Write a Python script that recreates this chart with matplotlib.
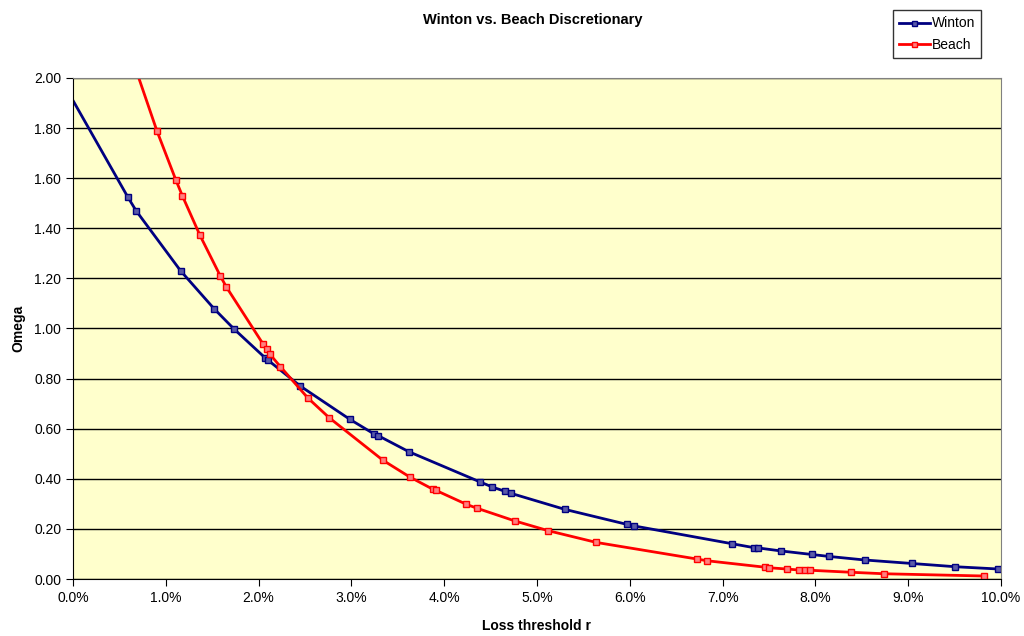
import numpy as np
import matplotlib
matplotlib.use("Agg")
import matplotlib.pyplot as plt
from matplotlib.ticker import FuncFormatter, MultipleLocator

plt.rcParams["font.family"] = ["Liberation Sans", "DejaVu Sans"]

# loss threshold r (%) and Omega
winton_r = [0.00, 0.59, 0.68, 1.16, 1.52, 1.735, 2.07, 2.10, 2.45, 2.985, 3.24, 3.29,
            3.62, 4.39, 4.52, 4.655, 4.72, 5.30, 5.97, 6.045, 7.10, 7.34, 7.385, 7.63,
            7.96, 8.15, 8.53, 9.04, 9.51, 9.97]
winton_omega = [1.91, 1.525, 1.47, 1.23, 1.079, 0.998, 0.883, 0.874, 0.770, 0.637, 0.580,
                0.572, 0.508, 0.387, 0.367, 0.350, 0.342, 0.278, 0.218, 0.212, 0.141,
                0.125, 0.124, 0.112, 0.098, 0.090, 0.076, 0.062, 0.049, 0.040]

beach_r = [0.45, 0.905, 1.107, 1.178, 1.368, 1.587, 1.652, 2.05, 2.087, 2.12, 2.234,
           2.53, 2.76, 3.34, 3.63, 3.88, 3.91, 4.24, 4.35, 4.76, 5.12, 5.64, 6.72, 6.83,
           7.46, 7.50, 7.69, 7.82, 7.89, 7.94, 8.38, 8.74, 9.82]
beach_omega = [2.28, 1.788, 1.594, 1.530, 1.372, 1.210, 1.166, 0.937, 0.918, 0.898, 0.848,
               0.723, 0.644, 0.474, 0.407, 0.358, 0.354, 0.298, 0.283, 0.232, 0.193,
               0.146, 0.080, 0.073, 0.047, 0.045, 0.040, 0.036, 0.035, 0.035, 0.027,
               0.021, 0.012]

fig = plt.figure(figsize=(10.24, 6.36), dpi=100)
ax = fig.add_axes([0.0713, 0.0896, 0.9062, 0.7878])
ax.set_facecolor("#FFFFCC")

ax.plot(winton_r, winton_omega, color="#000080", lw=2.0, marker="s", ms=4.5,
        mfc="#5a5aa8", mec="#000080", mew=1.0, label="Winton", markevery=slice(1, None))
ax.plot(beach_r, beach_omega, color="#FF0000", lw=2.0, marker="s", ms=4.5,
        mfc="#ff8080", mec="#FF0000", mew=1.0, label="Beach")

ax.set_xlim(0, 10)
ax.set_ylim(0, 2.0)
ax.xaxis.set_major_locator(MultipleLocator(1.0))
ax.yaxis.set_major_locator(MultipleLocator(0.2))
ax.xaxis.set_major_formatter(FuncFormatter(lambda v, p: f"{v:.1f}%"))
ax.yaxis.set_major_formatter(FuncFormatter(lambda v, p: f"{v:.2f}"))
ax.grid(axis="y", color="black", lw=1.0)
ax.set_axisbelow(True)
ax.tick_params(direction="out", length=5, labelsize=10, colors="black")
for s in ["top", "right"]:
    ax.spines[s].set_color("#808080")
for s in ["left", "bottom"]:
    ax.spines[s].set_color("black")

ax.set_xlabel("Loss threshold r", fontsize=10, fontweight="bold", labelpad=10)
ax.set_ylabel("Omega", fontsize=10, fontweight="bold", labelpad=6)
fig.text(0.52, 0.968, "Winton vs. Beach Discretionary", ha="center", va="center",
         fontsize=10.5, fontweight="bold")

leg = fig.legend(loc="upper left", bbox_to_anchor=(0.865, 0.995), fontsize=10,
                 frameon=True, fancybox=False, edgecolor="black", handlelength=2.2,
                 borderpad=0.45, labelspacing=0.55, handletextpad=0.15, markerscale=0.8)
leg.get_frame().set_linewidth(1.0)

fig.savefig("out.png", dpi=100)
